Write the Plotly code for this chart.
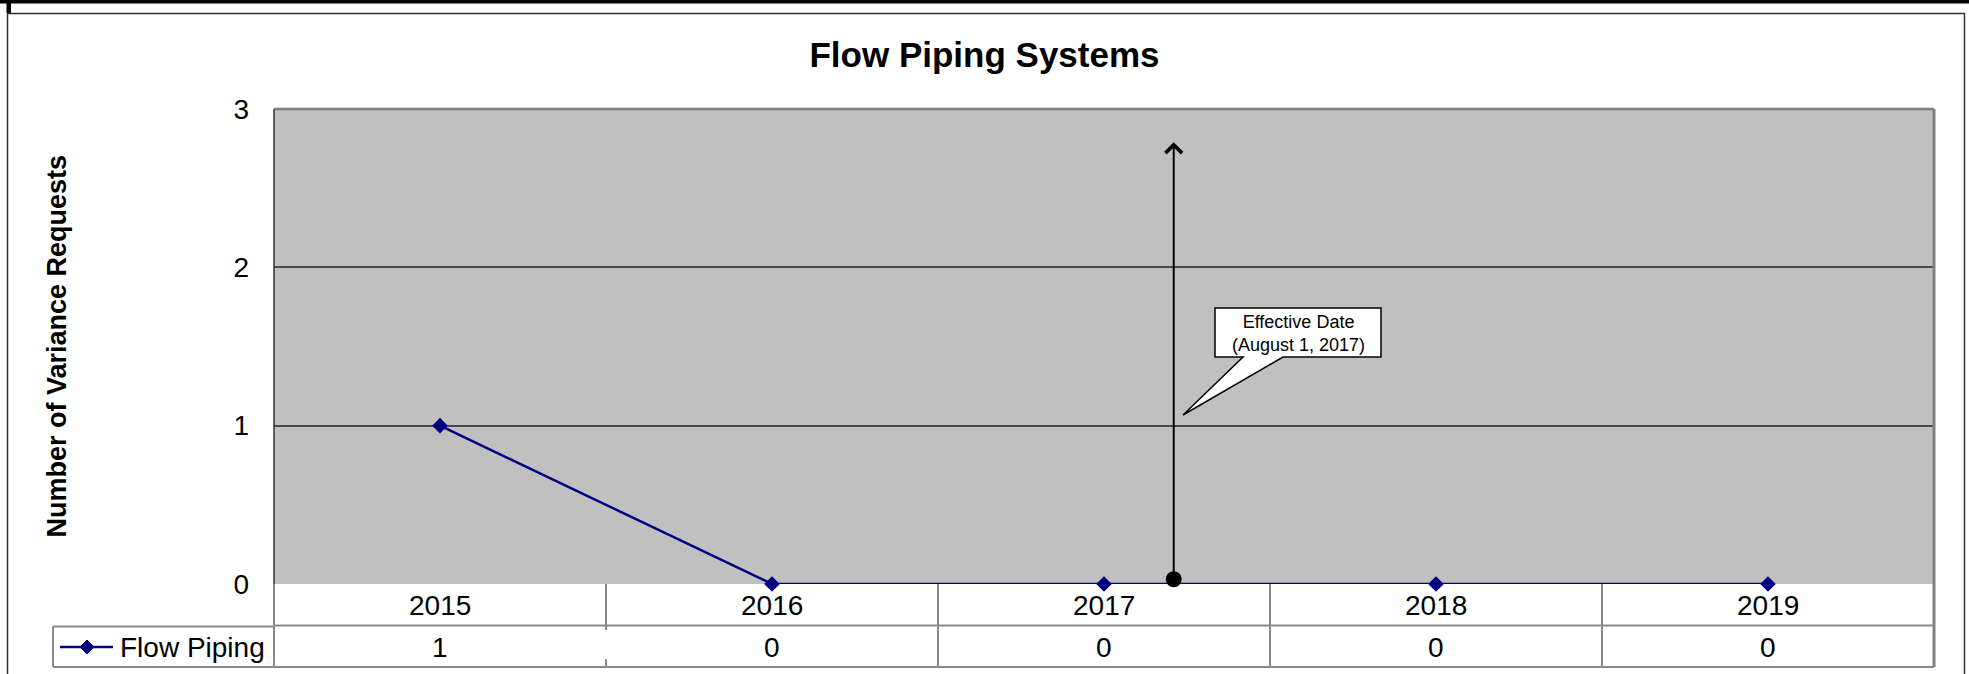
import plotly.graph_objects as go

# ---------------- data ----------------
years = ["2015", "2016", "2017", "2018", "2019"]
flow_piping = [1, 0, 0, 0, 0]
series_name = "Flow Piping"
y_ticks = [0, 1, 2, 3]
effective_x = 2.21          # August 1, 2017 position (category index units)
effective_label = "Effective Date<br>(August 1, 2017)"
arrow_top = 2.79
title_text = "Flow Piping Systems"
y_title = "Number of Variance Requests"

# ---------------- geometry ----------------
W, H = 1969, 674
L, R, T, B = 274, 35, 109, 90
PW, PH = W - L - R, H - T - B
FONT = "Arial, Liberation Sans, Helvetica, sans-serif"
GRAY = "#8a8a8a"
NAVY = "#000080"

def px(x):  # pixel x -> paper x
    return (x - L) / PW

def py(y):  # pixel y -> paper y
    return (H - B - y) / PH

xs = list(range(len(years)))

fig = go.Figure()
fig.add_trace(go.Scatter(
    x=xs, y=flow_piping, mode="lines+markers", name=series_name,
    line=dict(color=NAVY, width=2.5),
    marker=dict(symbol="diamond", size=12, color=NAVY),
    cliponaxis=False, showlegend=False, hoverinfo="skip"))

# event dot at base of the arrow
fig.add_trace(go.Scatter(
    x=[effective_x], y=[0.03], mode="markers",
    marker=dict(size=16, color="black"), cliponaxis=False,
    showlegend=False, hoverinfo="skip"))

shapes = []
ann = []

# outer frame decorations
shapes.append(dict(type="rect", xref="paper", yref="paper",
                   x0=px(0), x1=px(W), y0=py(0), y1=py(3.5),
                   fillcolor="black", line=dict(width=0), layer="above"))
shapes.append(dict(type="rect", xref="paper", yref="paper",
                   x0=px(6.5), x1=px(11), y0=py(0), y1=py(13),
                   fillcolor="black", line=dict(width=0), layer="above"))
shapes.append(dict(type="rect", xref="paper", yref="paper",
                   x0=px(7.5), x1=px(1964.5), y0=py(13.5), y1=py(H + 20),
                   line=dict(color="#303030", width=1.5), layer="above"))

# plot-area borders
shapes.append(dict(type="line", xref="paper", yref="paper",
                   x0=0, x1=1, y0=1, y1=1, line=dict(color="#808080", width=2.5), layer="above"))
shapes.append(dict(type="line", xref="paper", yref="paper",
                   x0=1, x1=1, y0=py(667), y1=1, line=dict(color="#808080", width=3), layer="above"))
shapes.append(dict(type="line", xref="paper", yref="paper",
                   x0=0, x1=0, y0=0, y1=1, line=dict(color="#303030", width=1.5), layer="above"))
shapes.append(dict(type="line", xref="paper", yref="paper",
                   x0=0, x1=0, y0=py(667), y1=0, line=dict(color=GRAY, width=2), layer="above"))

# data table grid
shapes.append(dict(type="line", xref="paper", yref="paper",
                   x0=0, x1=1, y0=py(625.5), y1=py(625.5), line=dict(color=GRAY, width=2)))
shapes.append(dict(type="line", xref="paper", yref="paper",
                   x0=px(53), x1=0, y0=py(626.5), y1=py(626.5), line=dict(color=GRAY, width=2)))
shapes.append(dict(type="line", xref="paper", yref="paper",
                   x0=px(53), x1=1, y0=py(667), y1=py(667), line=dict(color=GRAY, width=2)))
shapes.append(dict(type="line", xref="paper", yref="paper",
                   x0=px(53), x1=px(53), y0=py(667), y1=py(626.5), line=dict(color=GRAY, width=2)))
for i in range(len(years) - 1):
    xb = i + 0.5
    if i == 0:
        segs = [(584, 630), (659, 667)]
    else:
        segs = [(584, 667)]
    for a, b in segs:
        shapes.append(dict(type="line", xref="x", yref="paper",
                           x0=xb, x1=xb, y0=py(b), y1=py(a), line=dict(color=GRAY, width=2)))

# legend key in table
shapes.append(dict(type="line", xref="paper", yref="paper",
                   x0=px(60), x1=px(113), y0=py(647), y1=py(647), line=dict(color=NAVY, width=2.5)))
shapes.append(dict(type="path", xref="paper", yref="paper",
                   path="M {a},{c} L {b},{d} L {e},{c} L {b},{f} Z".format(
                       a=px(80), b=px(87), e=px(94), c=py(647), d=py(640), f=py(654)),
                   fillcolor=NAVY, line=dict(color=NAVY, width=1)))
ann.append(dict(xref="paper", yref="paper", x=px(118), y=py(647), text=series_name,
                showarrow=False, xanchor="left", yanchor="middle",
                font=dict(size=28, color="black", family=FONT)))

# table text
for xv, yr, v in zip(xs, years, flow_piping):
    ann.append(dict(xref="x", yref="paper", x=xv, y=py(605), text=yr, showarrow=False,
                    xanchor="center", yanchor="middle", font=dict(size=28, color="black", family=FONT)))
    ann.append(dict(xref="x", yref="paper", x=xv, y=py(647), text=str(v), showarrow=False,
                    xanchor="center", yanchor="middle", font=dict(size=28, color="black", family=FONT)))

# callout box with wedge pointer (data coords)
def dx(p):
    return (p - L) / (PW / len(years)) - 0.5

def dy(p):
    return (H - B - p) / (PH / 3)

pts = [(1215, 308), (1381, 308), (1381, 357), (1283, 357), (1183, 415), (1243, 357), (1215, 357)]
path = "M " + " L ".join("{:.4f},{:.4f}".format(dx(a), dy(b)) for a, b in pts) + " Z"
shapes.append(dict(type="path", xref="x", yref="y", path=path,
                   fillcolor="white", line=dict(color="black", width=1.5), layer="above"))
ann.append(dict(xref="x", yref="y", x=dx(1298), y=dy(333.5), text=effective_label,
                showarrow=False, xanchor="center", yanchor="middle",
                font=dict(size=18, color="black", family=FONT)))

# effective date arrow
ann.append(dict(xref="x", yref="y", x=effective_x, y=arrow_top, ax=effective_x, ay=0.03,
                axref="x", ayref="y", text="", showarrow=True, arrowhead=4,
                arrowsize=1.6, arrowwidth=2, arrowcolor="black", standoff=0, startstandoff=0))

# y-axis title
ann.append(dict(xref="paper", yref="paper", x=px(56), y=0.5, text="<b>" + y_title + "</b>",
                textangle=-90, showarrow=False, xanchor="center", yanchor="middle",
                font=dict(size=27, color="black", family=FONT)))

fig.update_layout(
    width=W, height=H,
    margin=dict(l=L, r=R, t=T, b=B, pad=0),
    paper_bgcolor="white", plot_bgcolor="#C0C0C0",
    font=dict(family=FONT, color="black"),
    title=dict(text=title_text, x=0.5, xref="container", xanchor="center",
               y=1 - 55 / H, yref="container", yanchor="middle",
               font=dict(size=35, family=FONT, color="black", weight="bold")),
    xaxis=dict(range=[-0.5, len(years) - 0.5], showgrid=False, zeroline=False,
               showticklabels=False, ticks="", showline=False, fixedrange=True),
    yaxis=dict(range=[0, 3], tickvals=y_ticks, showgrid=True, gridcolor="#4a4a4a",
               gridwidth=1.5, zeroline=False, showline=False, ticks="",
               ticklabelstandoff=24, tickfont=dict(size=28, color="black", family=FONT)),
    shapes=shapes, annotations=ann, showlegend=False,
)

fig.write_html("out.html", config={"displayModeBar": False},
               post_script="document.body.style.margin='0';document.body.style.padding='0';"
                           "document.body.style.overflow='hidden';")
